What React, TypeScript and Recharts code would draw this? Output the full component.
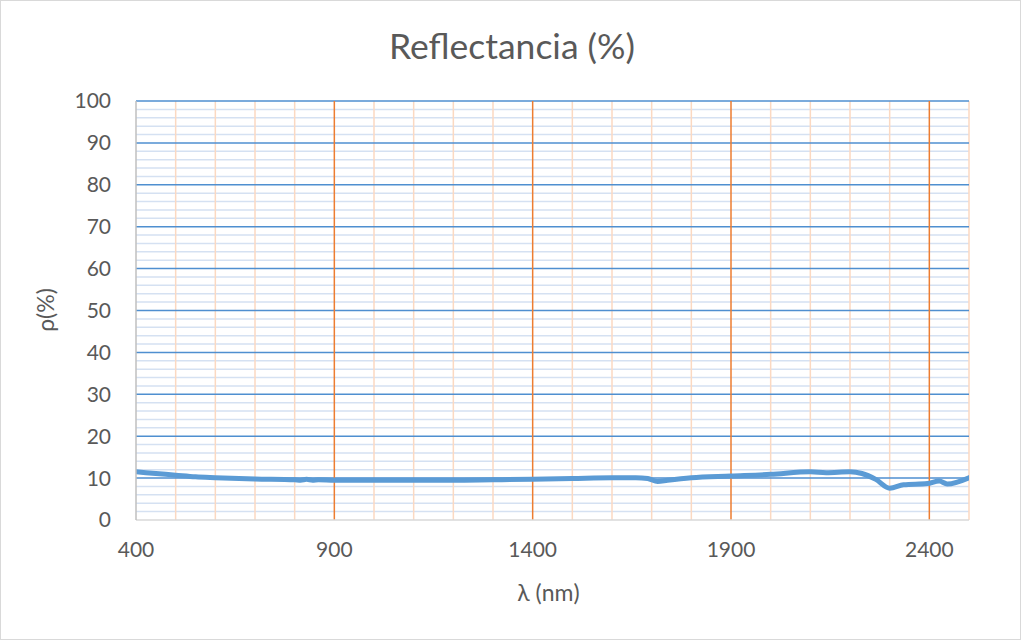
import React from "react";
import { LineChart, Line, XAxis, YAxis, ReferenceLine } from "recharts";

// wavelength (nm) and reflectance (%)
const wavelength = [
  400, 450, 500, 550, 600, 700, 800, 815, 830, 845, 860, 900, 1000, 1100, 1200, 1300, 1400, 1500, 1600, 1660,
  1690, 1715, 1740, 1800, 1900, 2000, 2100, 2140, 2200, 2230, 2265, 2300, 2335, 2395, 2425, 2445, 2500,
];
const reflectance = [
  11.5, 11.1, 10.7, 10.3, 10.1, 9.8, 9.6, 9.5, 9.7, 9.5, 9.6, 9.5, 9.5, 9.5, 9.5, 9.6, 9.7, 9.9, 10.1, 10.1,
  9.9, 9.2, 9.5, 10.1, 10.5, 10.9, 11.5, 11.3, 11.5, 11.1, 9.7, 7.6, 8.4, 8.7, 9.3, 8.6, 10.1,
];

const xTicks = [400, 900, 1400, 1900, 2400];
const xMinor = [500, 600, 700, 800, 1000, 1100, 1200, 1300, 1500, 1600, 1700, 1800, 2000, 2100, 2200, 2300, 2500];
const yTicks = [0, 10, 20, 30, 40, 50, 60, 70, 80, 90, 100];
const yMinor = Array.from({ length: 50 }, (_, i) => i * 2).filter((v) => v % 10 !== 0);

const data = wavelength.map((w, i) => ({ w, r: reflectance[i] }));

const FONT = "Lato, 'Open Sans', sans-serif";
const TEXT = "#595959";

export default function App() {
  return (
    <div style={{ position: "absolute", left: 0, top: 0, width: 1024, height: 642, background: "#fff", fontFamily: FONT }}>
      <div
        style={{
          position: "absolute", left: 0, top: 0, width: 1021, height: 640,
          border: "1px solid #d9d9d9", boxSizing: "border-box",
        }}
      />
      <div style={{ position: "absolute", left: 0, width: 1024, top: 24, textAlign: "center", fontSize: 35.5, color: TEXT }}>
        Reflectancia (%)
      </div>
      <LineChart width={1024} height={642} data={data} margin={{ top: 101, right: 55, bottom: 92, left: 0 }}>
        <XAxis
          dataKey="w"
          type="number"
          domain={[400, 2500]}
          ticks={xTicks}
          tickLine={false}
          tickSize={0}
          tickMargin={22}
          axisLine={{ stroke: "#d9d9d9", strokeWidth: 1.5 }}
          tick={{ fill: TEXT, fontSize: 21, fontFamily: FONT }}
          allowDataOverflow
        />
        <YAxis
          type="number"
          domain={[0, 100]}
          ticks={yTicks}
          width={136}
          tickLine={false}
          tickSize={0}
          tickMargin={25}
          axisLine={{ stroke: "#bfbfbf", strokeWidth: 1.5 }}
          tick={{ fill: TEXT, fontSize: 21, fontFamily: FONT }}
        />
        {yMinor.map((v) => (
          <ReferenceLine key={"ym" + v} y={v} stroke="#d5e1f2" strokeWidth={1.5} />
        ))}
        {xMinor.map((v) => (
          <ReferenceLine key={"xm" + v} x={v} stroke="#fbd9c2" strokeWidth={1.5} />
        ))}
        {yTicks.filter((v) => v > 0).map((v) => (
          <ReferenceLine key={"y" + v} y={v} stroke="#4f8fd0" strokeWidth={1.5} />
        ))}
        {xTicks.filter((v) => v > 400).map((v) => (
          <ReferenceLine key={"x" + v} x={v} stroke="#ed7d31" strokeWidth={1.5} />
        ))}
        <Line
          type="monotone"
          dataKey="r"
          stroke="#5b9bd5"
          strokeWidth={5}
          dot={false}
          strokeLinecap="round"
          strokeLinejoin="round"
          isAnimationActive={false}
        />
      </LineChart>
      <div style={{ position: "absolute", left: 0, width: 1097, top: 578, textAlign: "center", fontSize: 23, color: TEXT }}>
        λ (nm)
      </div>
      <div
        style={{
          position: "absolute", left: 45, top: 310, fontSize: 23, color: TEXT, whiteSpace: "nowrap",
          transform: "translate(-50%, -50%) rotate(-90deg)",
        }}
      >
        ρ(%)
      </div>
    </div>
  );
}
